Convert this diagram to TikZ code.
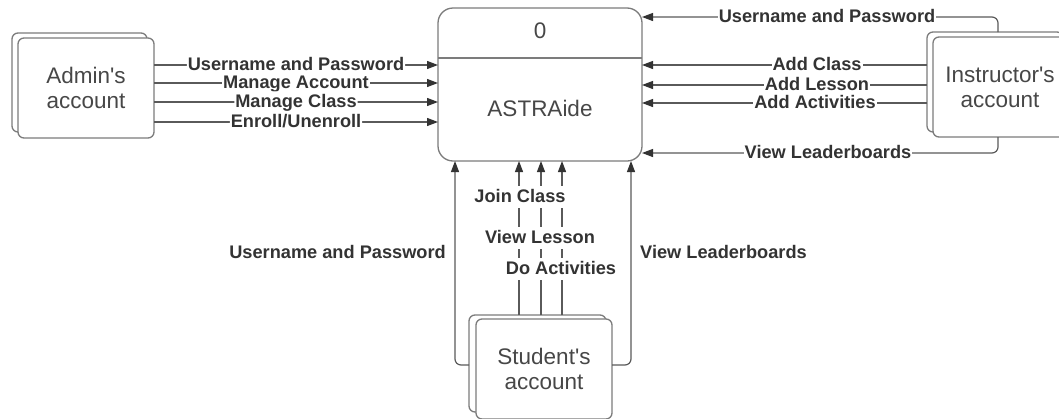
\documentclass[tikz,border=0pt]{standalone}
\usepackage{fontspec}
\setmainfont{Liberation Sans}
\usetikzlibrary{arrows.meta}
\definecolor{edgegray}{HTML}{5A5A5A}
\definecolor{framegray}{HTML}{7C7C7C}
\definecolor{ink}{HTML}{333333}
\definecolor{boxink}{HTML}{474747}

\begin{document}
\begin{tikzpicture}[x=1pt,y=-1pt,
  frame/.style={draw=framegray, line width=1.3pt},
  acct/.style={frame, rounded corners=6pt, fill=white, inner sep=0pt, outer sep=0pt},
  procbox/.style={frame, rounded corners=15pt, minimum width=204pt, minimum height=153pt, inner sep=0pt, outer sep=0pt},
  boxtext/.style={text=boxink, font=\fontsize{22.5}{25}\selectfont, align=center},
  flow/.style={draw=edgegray, line width=1.2pt, rounded corners=6pt,
    -{Triangle[length=11pt,width=8pt,color=ink]}},
  lbl/.style={fill=white, text=ink, font=\fontsize{18.2}{20}\selectfont\bfseries,
    inner xsep=1pt, inner ysep=2pt, text height=14pt, text depth=3.5pt},
]
\useasboundingbox (0,0) rectangle (1059,418);
\fill[white] (0,0) rectangle (1059,418);
\clip (0,0) rectangle (1059,418);

% central process
\node[procbox] (main) at (540,84.5) {};
\draw[frame] (main.west |- 0,58) -- (main.east |- 0,58);
\node[boxtext] (pid) at (540,31) {0};
\node[boxtext] (pname) at (540,108) {ASTRAide};

% external entities (stacked cards)
\node[acct, minimum width=135pt, minimum height=99pt] (adminB) at (79.5,82.5) {};
\node[acct, boxtext, minimum width=136pt, minimum height=100pt] (admin) at (86,88) {Admin\textquotesingle s\\account};

\node[acct, minimum width=136pt, minimum height=100pt] (instB) at (995,82) {};
\node[acct, boxtext, minimum width=134pt, minimum height=100pt] (inst) at (1000,87) {Instructor\textquotesingle s\\account};

\node[acct, minimum width=137pt, minimum height=97pt] (stuB) at (537.5,363.5) {};
\node[acct, boxtext, minimum width=136pt, minimum height=100pt] (stu) at (544,369) {Student\textquotesingle s\\account};

% admin flows
\foreach \y/\t in {65/{Username and Password},83/{Manage Account},102/{Manage Class},122/{Enroll/Unenroll}}{
  \draw[flow] (admin.east |- 0,\y) -- (main.west |- 0,\y) node[lbl, pos=0.5] {\t};
}

% instructor flows
\draw[flow] (instB.north -| 998,0) |- (main.east |- 0,17);
\draw[flow] (instB.west |- 0,65) -- (main.east |- 0,65);
\draw[flow] (instB.west |- 0,85) -- (main.east |- 0,85);
\draw[flow] (instB.west |- 0,103) -- (main.east |- 0,103);
\draw[flow] (inst.south -| 998,0) |- (main.east |- 0,153);
\node[lbl] (iUser) at (827,17) {Username and Password};
\node[lbl] (iClass) at (817,65) {Add Class};
\node[lbl] (iLesson) at (817,85) {Add Lesson};
\node[lbl] (iAct) at (815,103) {Add Activities};
\node[lbl] (iBoard) at (828,153) {View Leaderboards};

% student flows
\draw[flow] (stuB.west |- 0,365) -| (main.south -| 455,0);
\draw[flow] (stu.east |- 0,365) -| (main.south -| 631,0);
\draw[flow] (stuB.north -| 519,0) -- (main.south -| 519,0);
\draw[flow] (stuB.north -| 541,0) -- (main.south -| 541,0);
\draw[flow] (stuB.north -| 562,0) -- (main.south -| 562,0);
\node[lbl] (sJoin) at (520,197) {Join Class};
\node[lbl] (sLesson) at (540,238) {View Lesson};
\node[lbl] (sAct) at (561,269) {Do Activities};
\node[lbl, anchor=east] (sUser) at (447,253) {Username and Password};
\node[lbl, anchor=west] (sBoard) at (639,253) {View Leaderboards};
\end{tikzpicture}
\end{document}
